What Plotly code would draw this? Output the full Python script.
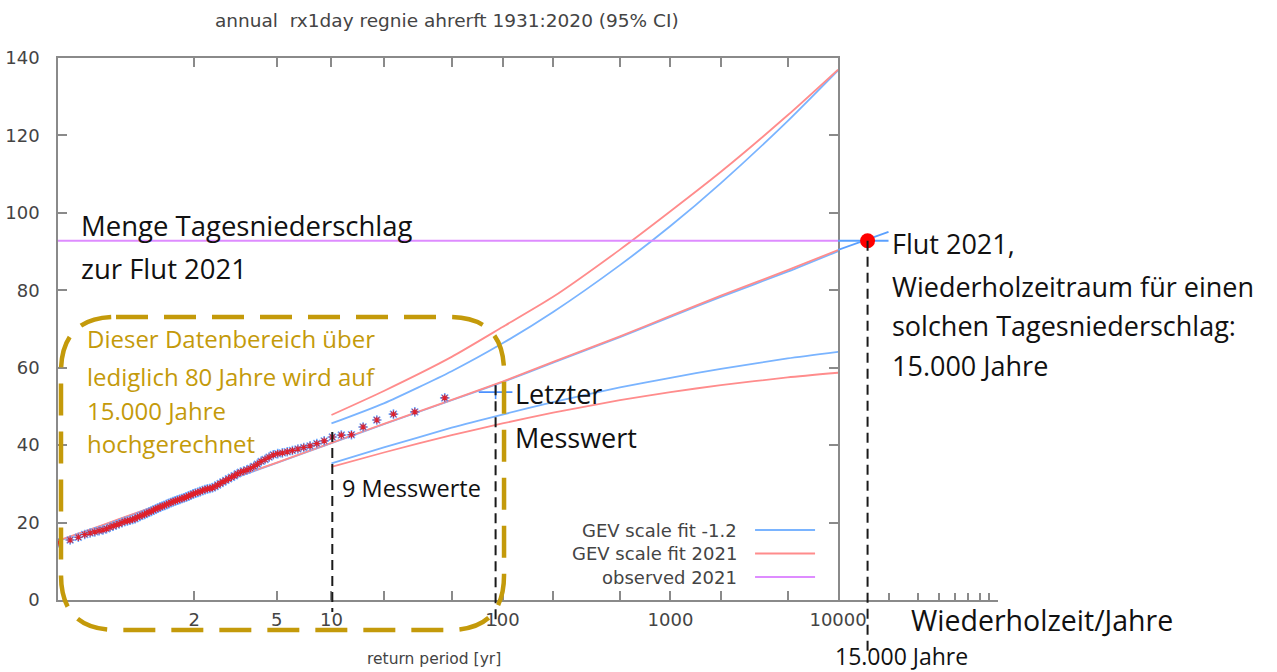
import math
import plotly.graph_objects as go

# ------------------------------------------------------------------ data
N_YEARS = 90                      # 1931:2020 annual maxima
# observed annual max daily precipitation, sorted by rank (rank 1 = largest)
obs_by_rank = [
    53.7, 52.2, 48.6, 48.0, 46.5, 44.7, 42.7, 42.6, 42.1, 41.1,
    40.4, 39.8, 39.4, 39.0, 38.6, 38.3, 38.0, 37.8, 37.5, 36.9,
    36.3, 35.8, 35.1, 34.5, 34.0, 33.6, 33.3, 33.0, 32.6, 32.1,
    31.7, 31.3, 30.9, 30.5, 30.1, 29.7, 29.3, 29.0, 28.8, 28.7,
    28.5, 28.3, 28.0, 27.8, 27.6, 27.4, 27.1, 26.9, 26.6, 26.4,
    26.2, 26.0, 25.8, 25.6, 25.4, 25.2, 24.9, 24.7, 24.4, 24.2,
    24.0, 23.7, 23.5, 23.2, 22.9, 22.7, 22.4, 22.1, 21.9, 21.6,
    21.4, 21.0, 20.8, 20.6, 20.4, 20.3, 20.0, 19.7, 19.4, 19.1,
    18.8, 18.4, 18.1, 17.9, 17.6, 17.3, 16.9, 16.2, 15.5, 14.8,
]

fit_T = [1.011, 1.1, 1.25, 1.5, 2, 3, 5, 10, 20, 50, 100, 200, 500, 1000, 2000, 5000, 10000]
fit_blue_central = [15.2, 19.4, 22.1, 24.7, 27.8, 31.4, 35.4, 40.5, 45.4, 51.6, 56.3, 61.3, 67.9, 73.1, 78.3, 84.8, 90.1]
fit_red_central = [15.3, 19.5, 22.2, 24.8, 27.9, 31.5, 35.5, 40.6, 45.5, 51.7, 56.4, 61.5, 68.1, 73.4, 78.6, 85.2, 90.4]

ci_T = [10, 20, 50, 100, 200, 500, 1000, 2000, 5000, 10000]
blue_upper = [45.6, 50.8, 59.1, 66.3, 74.4, 86.5, 96.6, 107.7, 123.7, 136.8]
blue_lower = [35.3, 39.4, 44.5, 47.9, 51.1, 54.9, 57.4, 59.7, 62.4, 64.1]
red_upper = [47.8, 54.0, 62.8, 70.5, 78.3, 90.5, 100.4, 110.6, 125.2, 137.0]
red_lower = [34.4, 38.1, 42.6, 45.6, 48.4, 51.6, 53.7, 55.5, 57.5, 58.7]

observed_2021 = 92.8
return_period_2021 = 15000
ext_T = [10000, 20000]            # hand-drawn extrapolation beyond the plot
ext_blue = [90.4, 95.1]

tick_T = [2, 5, 10, 20, 50, 100, 200, 500, 1000, 2000, 5000, 10000]
tick_text = ['2', '5', '10', '', '', '100', '', '', '1000', '', '', '10000']
ext_tick_T = [20000, 30000, 40000, 50000, 60000, 70000, 80000, 90000]
y_ticks = [0, 20, 40, 60, 80, 100, 120, 140]
legend_labels = ['GEV scale fit -1.2', 'GEV scale fit 2021', 'observed 2021']

# ------------------------------------------------------------------ helpers
def gumbel(T):
    return -math.log(-math.log(1.0 - 1.0 / T))

BLUE = '#7ab4ff'
RED = '#ff8c8c'
PURPLE = '#de8cff'
AX = '#8a8a8a'
GOLD = '#c49a0a'
TXT = '#444444'
CROSS = '#4a90ff'

W, H = 1277, 672
ML, MT = 58, 58
MAIN_W = 780
PLOT_H = 542
T_left = (N_YEARS + 1) / N_YEARS
x_lo, x_hi = gumbel(T_left), gumbel(10000)
scale = MAIN_W / (x_hi - x_lo)
x2_hi = gumbel(90000)
PLOT_W = MAIN_W + scale * (x2_hi - x_hi)
MR = W - ML - PLOT_W
MB = H - MT - PLOT_H
d1 = MAIN_W / PLOT_W
Y_MAX = 140


def px(xp):
    return (xp - ML) / PLOT_W


def py(yp):
    return (MT + PLOT_H - yp) / PLOT_H


ranks = list(range(1, N_YEARS + 1))
obs_T = [(N_YEARS + 1) / r for r in ranks]
obs_x = [gumbel(t) for t in obs_T]

fig = go.Figure()

# fits (blue first, red on top)
for cen, up, lo, col in [(fit_blue_central, blue_upper, blue_lower, BLUE),
                         (fit_red_central, red_upper, red_lower, RED)]:
    fig.add_trace(go.Scatter(x=[gumbel(t) for t in fit_T], y=cen, mode='lines',
                             line=dict(color=col, width=1.8, shape='spline', smoothing=0.6),
                             xaxis='x', yaxis='y', hoverinfo='skip'))
    for arr in (up, lo):
        fig.add_trace(go.Scatter(x=[gumbel(t) for t in ci_T], y=arr, mode='lines',
                                 line=dict(color=col, width=1.8, shape='spline', smoothing=0.6),
                                 xaxis='x', yaxis='y', hoverinfo='skip'))

# observed 2021 level
fig.add_trace(go.Scatter(x=[x_lo, x_hi], y=[observed_2021, observed_2021], mode='lines',
                         line=dict(color=PURPLE, width=1.8), xaxis='x', yaxis='y'))

# observed points (rank 2..90)
fig.add_trace(go.Scatter(x=obs_x[1:], y=obs_by_rank[1:], mode='markers',
                         marker=dict(symbol='asterisk-open', size=8, color='#6aa6ff',
                                     line=dict(color='#6aa6ff', width=1.6)),
                         xaxis='x', yaxis='y'))
fig.add_trace(go.Scatter(x=obs_x[1:], y=obs_by_rank[1:], mode='markers',
                         marker=dict(symbol='asterisk-open', size=6, color='#e0202a',
                                     line=dict(color='#e0202a', width=1.1)),
                         xaxis='x', yaxis='y'))
# last (largest) value marked with a cross
fig.add_trace(go.Scatter(x=[obs_x[0]], y=[obs_by_rank[0]], mode='markers',
                         marker=dict(symbol='line-ew-open', size=24, color=CROSS,
                                     line=dict(color=CROSS, width=1.6)),
                         xaxis='x', yaxis='y', cliponaxis=False))
fig.add_trace(go.Scatter(x=[obs_x[0]], y=[obs_by_rank[0]], mode='markers',
                         marker=dict(symbol='line-ns-open', size=10, color=CROSS,
                                     line=dict(color=CROSS, width=1.6)),
                         xaxis='x', yaxis='y', cliponaxis=False))

# extrapolation beyond the plot
fig.add_trace(go.Scatter(x=[gumbel(t) for t in ext_T], y=ext_blue, mode='lines',
                         line=dict(color='#5aa0ff', width=1.8), xaxis='x2', yaxis='y'))
fig.add_trace(go.Scatter(x=[gumbel(t) for t in ext_T], y=[observed_2021] * 2, mode='lines',
                         line=dict(color='#5aa0ff', width=1.8), xaxis='x2', yaxis='y'))
fig.add_trace(go.Scatter(x=[gumbel(return_period_2021)], y=[observed_2021], mode='markers',
                         marker=dict(color='#ff0000', size=15), xaxis='x2', yaxis='y',
                         cliponaxis=False))

tickfont = dict(family='DejaVu Sans', size=18, color=TXT)
fig.update_layout(
    width=W, height=H,
    margin=dict(l=ML, r=MR, t=MT, b=MB, pad=0, autoexpand=False),
    plot_bgcolor='white', paper_bgcolor='white', showlegend=False,
    xaxis=dict(domain=[0, d1], range=[x_lo, x_hi], tickmode='array',
               tickvals=[gumbel(t) for t in tick_T], ticktext=tick_text,
               ticks='inside', ticklen=9, tickwidth=1.5, tickcolor=AX,
               showline=True, linecolor=AX, linewidth=1.5, mirror='ticks',
               showgrid=False, zeroline=False, tickfont=tickfont,
               ticklabelstandoff=3, anchor='y'),
    xaxis2=dict(domain=[d1, 1], range=[x_hi, x2_hi], tickmode='array',
                tickvals=[gumbel(t) for t in ext_tick_T], showticklabels=False,
                ticks='inside', ticklen=7, tickwidth=1.5, tickcolor=AX,
                showline=True, linecolor=AX, linewidth=1.5, mirror=False,
                showgrid=False, zeroline=False, anchor='y'),
    yaxis=dict(domain=[0, 1], range=[0, Y_MAX], tickmode='array', tickvals=y_ticks,
               ticks='inside', ticklen=9, tickwidth=1.5, tickcolor=AX,
               showline=True, linecolor=AX, linewidth=1.5, mirror='ticks',
               showgrid=False, zeroline=False, tickfont=tickfont,
               ticklabelstandoff=13, anchor='x'),
)

shapes = []
DASH_BLACK = dict(color='#1a1a1a', width=2, dash='10px,6px')
# dashed verticals at rank 9 (T~10), rank 1 (T~91), and the 2021 event
shapes.append(dict(type='line', xref='x', yref='paper', x0=obs_x[8], x1=obs_x[8],
                   y0=(obs_by_rank[8] + 1.3) / Y_MAX, y1=py(612), line=DASH_BLACK))
shapes.append(dict(type='line', xref='x', yref='paper', x0=obs_x[0], x1=obs_x[0],
                   y0=(obs_by_rank[0] + 1.8) / Y_MAX, y1=py(626), line=DASH_BLACK))
shapes.append(dict(type='line', xref='x2', yref='paper',
                   x0=gumbel(return_period_2021), x1=gumbel(return_period_2021),
                   y0=observed_2021 / Y_MAX, y1=py(652), line=DASH_BLACK))

# golden rounded dashed box
L, R, T_, B, r = 61, 504, 317, 630, 55
pts = [('M', L + r, T_), ('L', R - r, T_), ('Q', R, T_, R, T_ + r), ('L', R, B - r),
       ('Q', R, B, R - r, B), ('L', L + r, B), ('Q', L, B, L, B - r), ('L', L, T_ + r),
       ('Q', L, T_, L + r, T_)]
path = ''
for p in pts:
    cmd = p[0]
    coords = p[1:]
    seg = []
    for i in range(0, len(coords), 2):
        seg.append(f'{px(coords[i]):.5f},{py(coords[i + 1]):.5f}')
    path += cmd + ' ' + ' '.join(seg) + ' '
shapes.append(dict(type='path', xref='paper', yref='paper', path=path + 'Z',
                   line=dict(color=GOLD, width=4.5, dash='32px,16px')))

# manual legend (gnuplot style: text left of sample)
leg_cols = [BLUE, RED, PURPLE]
leg_y = [530, 553.5, 577]
annotations = []
for lab, col, yy in zip(legend_labels, leg_cols, leg_y):
    shapes.append(dict(type='line', xref='paper', yref='paper', x0=px(755), x1=px(815),
                       y0=py(yy), y1=py(yy), line=dict(color=col, width=1.8)))
    annotations.append(dict(xref='paper', yref='paper', x=px(739), y=py(yy), text=lab,
                            showarrow=False, xanchor='right', yanchor='middle',
                            font=dict(family='DejaVu Sans', size=18, color=TXT)))

# title & axis title
annotations.append(dict(xref='paper', yref='paper', x=px(447), y=py(20),
                        text='annual  rx1day regnie ahrerft 1931:2020 (95% CI)',
                        showarrow=False, xanchor='center', yanchor='middle',
                        font=dict(family='DejaVu Sans', size=18.5, color=TXT)))
annotations.append(dict(xref='paper', yref='paper', x=px(434), y=py(659),
                        text='return period [yr]', showarrow=False,
                        xanchor='center', yanchor='middle',
                        font=dict(family='DejaVu Sans', size=15.5, color=TXT)))


def note(text, xl, yc, size, color='#111111'):
    annotations.append(dict(xref='paper', yref='paper', x=px(xl), y=py(yc), text=text,
                            showarrow=False, xanchor='left', yanchor='middle',
                            font=dict(family='Open Sans', size=size, color=color)))


note('Menge Tagesniederschlag', 79, 225, 27.5)
note('zur Flut 2021', 79, 268, 27.5)
note('Dieser Datenbereich über', 85, 338, 24, GOLD)
note('lediglich 80 Jahre wird auf', 85, 376, 24, GOLD)
note('15.000 Jahre', 85, 410, 24, GOLD)
note('hochgerechnet', 85, 443, 24, GOLD)
note('9 Messwerte', 340, 488, 23.5)
note('Letzter', 513, 393, 27)
note('Messwert', 513, 437, 27)
note('Flut 2021,', 890, 243, 27)
note('Wiederholzeitraum für einen', 890, 286, 27)
note('solchen Tagesniederschlag:', 890, 325, 27)
note('15.000 Jahre', 890, 365, 27)
note('Wiederholzeit/Jahre', 909, 620, 28.5)
note('15.000 Jahre', 833, 656, 23)

fig.update_layout(shapes=shapes, annotations=annotations)
fig.write_html('out.html', config={'displayModeBar': False},
               post_script="document.body.style.margin='0';")
